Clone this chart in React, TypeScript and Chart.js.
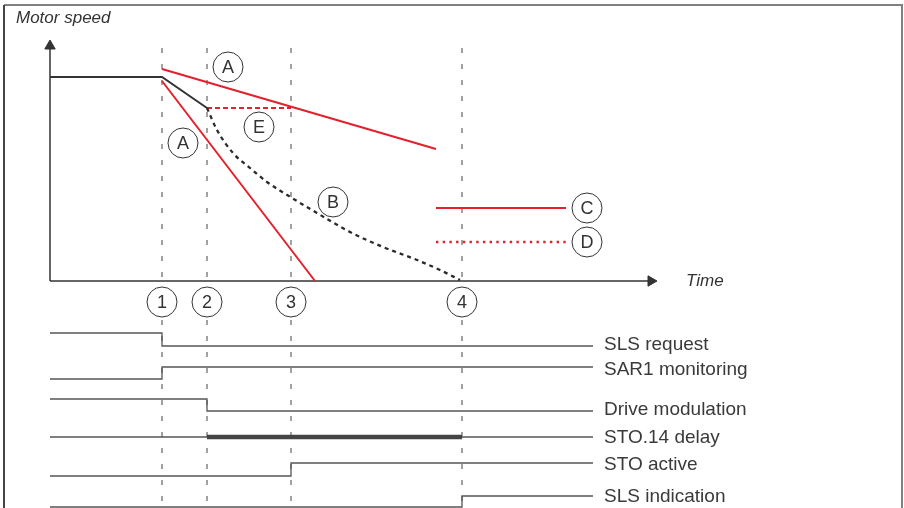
import React, { useEffect, useRef } from "react";
import { Chart, registerables } from "chart.js";

Chart.register(...registerables);

// ---- Data (time units from the speed-axis origin, speed units above the time axis) ----
const EVENT_TIMES = [112, 157, 241, 412];
const EVENT_LABELS = ["1", "2", "3", "4"];

const SPEED_ACTUAL_T = [0, 112, 157];
const SPEED_ACTUAL_V = [204, 204, 173];

const LIMIT_UPPER_T = [112, 386];
const LIMIT_UPPER_V = [212, 132];

const RAMP_LOWER_T = [112, 265];
const RAMP_LOWER_V = [200, 0];

const LIMIT_E_T = [157, 241];
const LIMIT_E_V = [173, 173];

const COAST_T = [157, 167, 183, 200, 217, 242, 267, 300, 333, 367, 390, 410];
const COAST_V = [173, 151, 128, 113, 99, 83, 68, 49, 34, 21, 11, 1];

const LEGEND_LINE_T = [386, 516];
const LEGEND_C_V = 73;
const LEGEND_D_V = 39;

const MARKER_LETTERS = ["A", "A", "E", "B", "C", "D"];
const MARKER_T = [178, 133, 209, 283, 537, 537];
const MARKER_V = [214, 138, 154, 79, 73, 39];

const SIGNAL_NAMES = [
  "SLS request",
  "SAR1 monitoring",
  "Drive modulation",
  "STO.14 delay",
  "STO active",
  "SLS indication",
];
const SIGNAL_BEFORE = [-52, -98, -118, -156, -195, -226];
const SIGNAL_AFTER = [-65, -86, -130, -156, -182, -215];
const SIGNAL_SWITCH_T = [112, 112, 157, 157, 241, 412];
const SIGNAL_LABEL_V = [-69, -94, -134, -162, -189, -221];
const SIGNAL_END_T = 543;
const STO_DELAY_T = [157, 412];

// ---- scale ranges ----
const X_MIN = -50;
const X_MAX = 854;
const Y_MIN = -227;
const Y_MAX = 281;

const RED = "#e3202b";
const DARK = "#333333";
const FONT = "'Liberation Sans', Arial, sans-serif";

const pts = (ts: number[], vs: number[]) => ts.map((t, i) => ({ x: t, y: vs[i] }));

const textPlugin = {
  id: "diagramText",
  afterDatasetsDraw(chart: any) {
    const { ctx } = chart;
    const x = chart.scales.x;
    const y = chart.scales.y;
    ctx.save();
    ctx.fillStyle = DARK;

    // circled letters and numbers
    ctx.font = `18px ${FONT}`;
    ctx.textAlign = "center";
    ctx.textBaseline = "middle";
    MARKER_LETTERS.forEach((l, i) => {
      ctx.fillText(l, x.getPixelForValue(MARKER_T[i]), y.getPixelForValue(MARKER_V[i]) + 1);
    });
    EVENT_LABELS.forEach((l, i) => {
      ctx.fillText(l, x.getPixelForValue(EVENT_TIMES[i]), y.getPixelForValue(-21) + 1);
    });

    // axis titles
    ctx.font = `italic 17px ${FONT}`;
    ctx.textAlign = "left";
    ctx.fillText("Motor speed", x.getPixelForValue(-34), y.getPixelForValue(263));
    ctx.fillText("Time", x.getPixelForValue(636), y.getPixelForValue(0));

    // signal names
    ctx.font = `19px ${FONT}`;
    ctx.textBaseline = "alphabetic";
    ctx.fillStyle = "#3a3a3a";
    SIGNAL_NAMES.forEach((n, i) => {
      ctx.fillText(n, x.getPixelForValue(554), y.getPixelForValue(SIGNAL_LABEL_V[i]));
    });
    ctx.restore();
  },
};

export default function App() {
  const ref = useRef<HTMLCanvasElement | null>(null);

  useEffect(() => {
    if (!ref.current) return;

    const line = (data: any[], color: string, width: number, extra: any = {}) => ({
      data,
      showLine: true,
      borderColor: color,
      borderWidth: width,
      pointRadius: 0,
      fill: false,
      tension: 0,
      ...extra,
    });

    const datasets: any[] = [];

    // frame
    datasets.push(line(pts([-46, -46], [-230, 276]), "#444", 2, { order: 20 }));
    datasets.push(line(pts([-46, 852, 852], [276, 276, -230]), "#808080", 2, { order: 20 }));

    // event dashed lines
    EVENT_TIMES.forEach((t) => {
      datasets.push(line(pts([t, t], [233, -227]), "#444", 1, { borderDash: [5, 11], order: 15 }));
    });

    // axes
    datasets.push(line(pts([0, 0], [0, 233]), DARK, 1.5, { order: 10 }));
    datasets.push(line(pts([0, 600], [0, 0]), DARK, 1.5, { order: 10 }));
    datasets.push({
      data: pts([0, 601], [235, 0]),
      showLine: false,
      pointStyle: "triangle",
      pointRadius: 6,
      pointRotation: [0, 90],
      pointBackgroundColor: DARK,
      pointBorderColor: DARK,
      pointBorderWidth: 1,
      order: 10,
    });

    // timing signals
    SIGNAL_NAMES.forEach((_, i) => {
      const s = SIGNAL_SWITCH_T[i];
      datasets.push(
        line(
          pts([0, s, s, SIGNAL_END_T], [SIGNAL_BEFORE[i], SIGNAL_BEFORE[i], SIGNAL_AFTER[i], SIGNAL_AFTER[i]]),
          "#555",
          1.3,
          { order: 12 }
        )
      );
    });
    datasets.push(line(pts(STO_DELAY_T, [SIGNAL_AFTER[3], SIGNAL_AFTER[3]]), "#444", 4.5, { order: 11, borderCapStyle: "butt" }));

    // speed curves
    datasets.push(line(pts(SPEED_ACTUAL_T, SPEED_ACTUAL_V), DARK, 2, { order: 5 }));
    datasets.push(line(pts(LIMIT_UPPER_T, LIMIT_UPPER_V), RED, 2, { order: 5 }));
    datasets.push(line(pts(RAMP_LOWER_T, RAMP_LOWER_V), RED, 2, { order: 5 }));
    datasets.push(line(pts(LIMIT_E_T, LIMIT_E_V), RED, 2, { order: 6, borderDash: [5, 3] }));
    datasets.push(
      line(pts(COAST_T, COAST_V), "#2a2a2a", 2.3, { order: 5, borderDash: [4, 4], cubicInterpolationMode: "monotone" })
    );
    datasets.push(line(pts(LEGEND_LINE_T, [LEGEND_C_V, LEGEND_C_V]), RED, 2, { order: 5 }));
    datasets.push(line(pts(LEGEND_LINE_T, [LEGEND_D_V, LEGEND_D_V]), RED, 2.4, { order: 5, borderDash: [2.4, 4.3] }));

    // circles
    datasets.push({
      data: [...pts(MARKER_T, MARKER_V), ...EVENT_TIMES.map((t) => ({ x: t, y: -21 }))],
      showLine: false,
      pointStyle: "circle",
      pointRadius: 15,
      pointBackgroundColor: "#ffffff",
      pointBorderColor: DARK,
      pointBorderWidth: 1,
      order: 1,
    });

    const chart = new Chart(ref.current, {
      type: "scatter",
      data: { datasets },
      options: {
        responsive: false,
        devicePixelRatio: 1,
        animation: false,
        events: [],
        layout: { padding: 0, autoPadding: false },
        plugins: { legend: { display: false }, tooltip: { enabled: false } },
        scales: {
          x: { type: "linear", min: X_MIN, max: X_MAX, display: false },
          y: { type: "linear", min: Y_MIN, max: Y_MAX, display: false },
        },
      },
      plugins: [textPlugin],
    } as any);

    return () => chart.destroy();
  }, []);

  return (
    <div style={{ position: "absolute", left: 0, top: 0, width: 904, height: 508, background: "#fff" }}>
      <canvas ref={ref} width={904} height={508} style={{ display: "block" }} />
    </div>
  );
}
